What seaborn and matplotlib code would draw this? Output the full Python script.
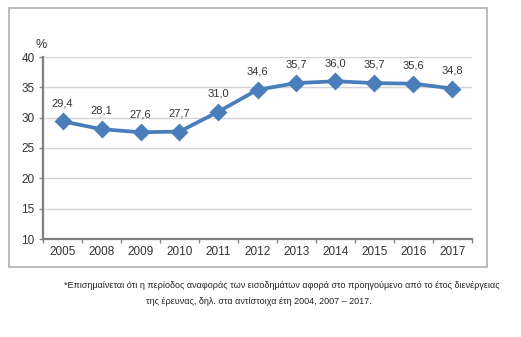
import matplotlib
matplotlib.use("Agg")
import matplotlib.pyplot as plt
from matplotlib.patches import Rectangle
import seaborn as sns
import pandas as pd

years = ["2005", "2008", "2009", "2010", "2011", "2012", "2013", "2014", "2015", "2016", "2017"]
values = [29.4, 28.1, 27.6, 27.7, 31.0, 34.6, 35.7, 36.0, 35.7, 35.6, 34.8]
y_ticks = [10, 15, 20, 25, 30, 35, 40]
footnote_1 = "*Επισημαίνεται ότι η περίοδος αναφοράς των εισοδημάτων αφορά στο προηγούμενο από το έτος διενέργειας"
footnote_2 = "της έρευνας, δηλ. στα αντίστοιχα έτη 2004, 2007 – 2017."

sns.set_theme(style="white")
plt.rcParams["font.family"] = ["Liberation Sans", "DejaVu Sans"]

df = pd.DataFrame({"year": years, "value": values})

fig = plt.figure(figsize=(5.21, 3.37), dpi=100)
ax = fig.add_axes([43 / 521, 1 - 239 / 337, (472 - 43) / 521, (239 - 57) / 337])

line_color = "#4a7ebb"
sns.pointplot(data=df, x="year", y="value", color=line_color, markers="D",
              markersize=7, linewidth=2.7, errorbar=None, ax=ax)

ax.set_ylim(10, 40)
ax.set_xlim(-0.5, len(years) - 0.5)
ax.set_yticks(y_ticks)
ax.set_yticklabels([str(t) for t in y_ticks], fontsize=8.5, color="#333333")
ax.set_xticks(range(len(years)))
ax.set_xticklabels(years, fontsize=8.5, color="#333333")
ax.set_xticks([i - 0.5 for i in range(len(years) + 1)], minor=True)
ax.tick_params(axis="x", which="major", length=0, pad=5)
ax.tick_params(axis="x", which="minor", length=3, width=1, color="#868686", direction="out", bottom=True)
ax.tick_params(axis="y", which="major", length=3, width=1, color="#868686", left=True, pad=3)
ax.set_xlabel("")
ax.set_ylabel("")

ax.yaxis.grid(True, color="#d4d4d4", linewidth=1.0)
ax.set_axisbelow(True)
for side in ["top", "right"]:
    ax.spines[side].set_visible(False)
for side in ["left", "bottom"]:
    ax.spines[side].set_color("#7f7f7f")
    ax.spines[side].set_linewidth(1.6)

for i, v in enumerate(values):
    ax.annotate(f"{v:.1f}".replace(".", ","), (i, v), xytext=(0, 9.5),
                textcoords="offset points", ha="center", va="bottom",
                fontsize=8, color="#333333")

fig.text(41 / 521, 1 - 45 / 337, "%", fontsize=9, color="#333333", ha="center", va="center")

# outer frame around the chart area
fig.patches.append(Rectangle((9 / 521, 1 - 267 / 337), (487 - 9) / 521, (267 - 8) / 337,
                             transform=fig.transFigure, fill=False,
                             edgecolor="#b0b0b0", linewidth=1.2))

fig.text(282 / 521, 1 - 285 / 337, footnote_1, fontsize=6.5, color="#222222", ha="center", va="center")
fig.text(259 / 521, 1 - 302 / 337, footnote_2, fontsize=6.5, color="#222222", ha="center", va="center")

fig.savefig("out.png", dpi=100, facecolor="white")
